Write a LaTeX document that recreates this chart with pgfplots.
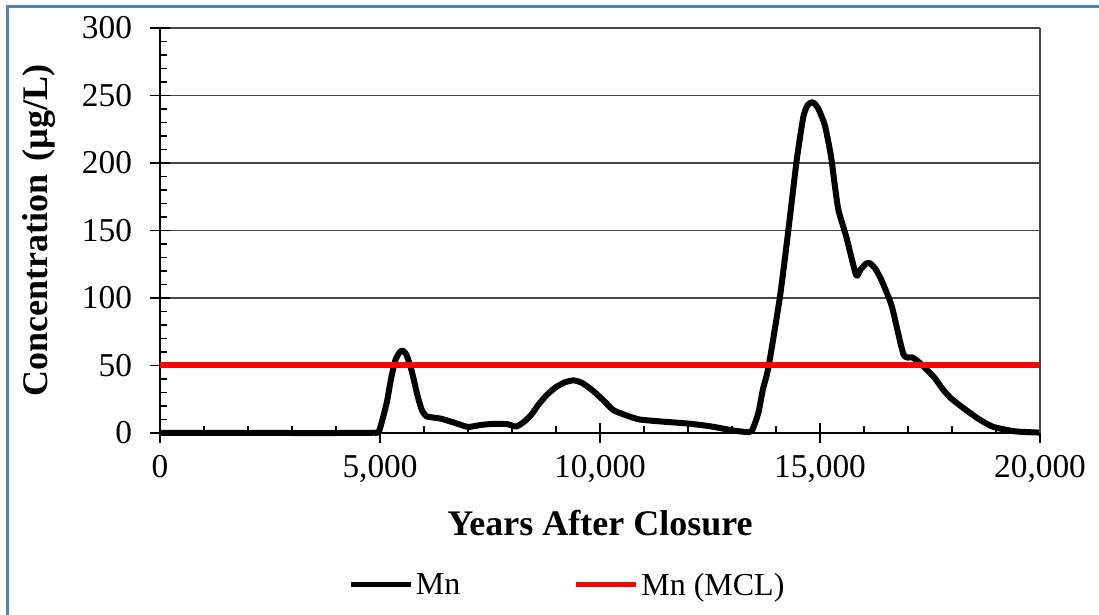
\documentclass[border=0pt]{standalone}
\usepackage{fontspec}
\setmainfont{Liberation Serif}
\usepackage{pgfplots}
\pgfplotsset{compat=1.18}
\definecolor{frameblue}{RGB}{79,129,189}
\definecolor{gridgray}{RGB}{70,70,70}
\begin{document}
\begin{tikzpicture}[x=1pt,y=1pt]
\useasboundingbox (0,0) rectangle (824.25,460.5);
\draw[line width=2.25pt, frameblue] (5.25,-2) -- (5.25,455.25) -- (826,455.25);
\begin{axis}[
  at={(120pt,135.75pt)}, anchor=south west,
  scale only axis, width=660pt, height=303.75pt,
  xmin=0, xmax=20000, ymin=0, ymax=300,
  axis x line*=bottom, axis y line*=left,
  axis line style={black, line width=1.1pt, -},
  xtick={0,5000,10000,15000,20000}, minor x tick num=4,
  ytick={0,50,...,300}, minor y tick num=4,
  ymajorgrids, major grid style={gridgray, line width=1.2pt},
  tick align=center, major tick length=15pt, minor tick length=5pt,
  minor x tick style={yshift=2.5pt}, minor y tick style={xshift=2.5pt},
  every tick/.style={black, line width=1pt},
  scaled x ticks=false, scaled y ticks=false,
  /pgf/number format/.cd, 1000 sep={,}, assume math mode=true, /pgfplots/.cd,
  tick label style={font=\fontsize{25}{29}\selectfont, black},
  yticklabel style={anchor=east, xshift=-10pt},
  xticklabel style={anchor=north, yshift=-6pt},
  xlabel={\textbf{Years After Closure}},
  ylabel={\textbf{Concentration\hspace{0.35em}(µg/L)}},
  label style={font=\fontsize{27}{32}\selectfont},
  xlabel style={at={(rel axis cs:0.5,-0.222)}, anchor=center},
  ylabel style={at={(rel axis cs:-0.138,0.5)}, anchor=center},
  legend columns=2,
  legend style={draw=none, fill=none, at={(rel axis cs:0.2136,-0.3753)}, anchor=west,
    font=\fontsize{24}{28}\selectfont, inner sep=0pt,
    /tikz/every even column/.append style={column sep=83pt}},
  legend image code/.code={\draw[#1, line width=3.75pt] (0pt,0pt) -- (45pt,0pt);},
  clip=false,
]
\addplot[black, line width=4.5pt, line join=round, smooth, tension=0.35] coordinates {
(0,0) (1000,0) (2000,0) (3000,0) (4000,0) (4850,0.2) (4980,1.5)
(5150,22) (5250,40) (5350,54) (5450,60) (5520,61) (5600,58) (5720,46)
(5850,28) (5950,17) (6050,12.5) (6200,11.5) (6400,10.5) (6700,7.5)
(7000,4.5) (7300,6) (7600,6.8) (7900,6.5) (8100,4.8) (8300,9) (8450,14)
(8600,21) (8800,28.5) (9000,34) (9200,37.5) (9400,39) (9600,37)
(9850,31) (10100,23.5) (10300,17) (10600,13) (10900,10) (11400,8.5)
(12000,7) (12500,5) (13000,2) (13300,0.8) (13450,1.5) (13600,15)
(13700,32) (13830,49) (14090,101) (14280,150) (14470,202) (14620,234)
(14720,243) (14830,245) (14950,241) (15110,228) (15250,205) (15330,185)
(15420,165) (15600,145) (15820,117) (15920,121) (16030,125) (16120,126)
(16250,122) (16400,113) (16630,94) (16900,58) (17100,56) (17300,51)
(17600,41) (17800,32) (18000,25) (18300,17.5) (18600,10.5) (18900,5)
(19200,2.5) (19500,1) (20000,0.3)
};
\addlegendentry{Mn}
\addplot[red, line width=4.5pt] coordinates {(0,50) (20000,50)};
\addlegendentry{Mn (MCL)}
\draw[gridgray, line width=1.2pt] (rel axis cs:1,0) -- (rel axis cs:1,1);
\end{axis}
\end{tikzpicture}
\end{document}
